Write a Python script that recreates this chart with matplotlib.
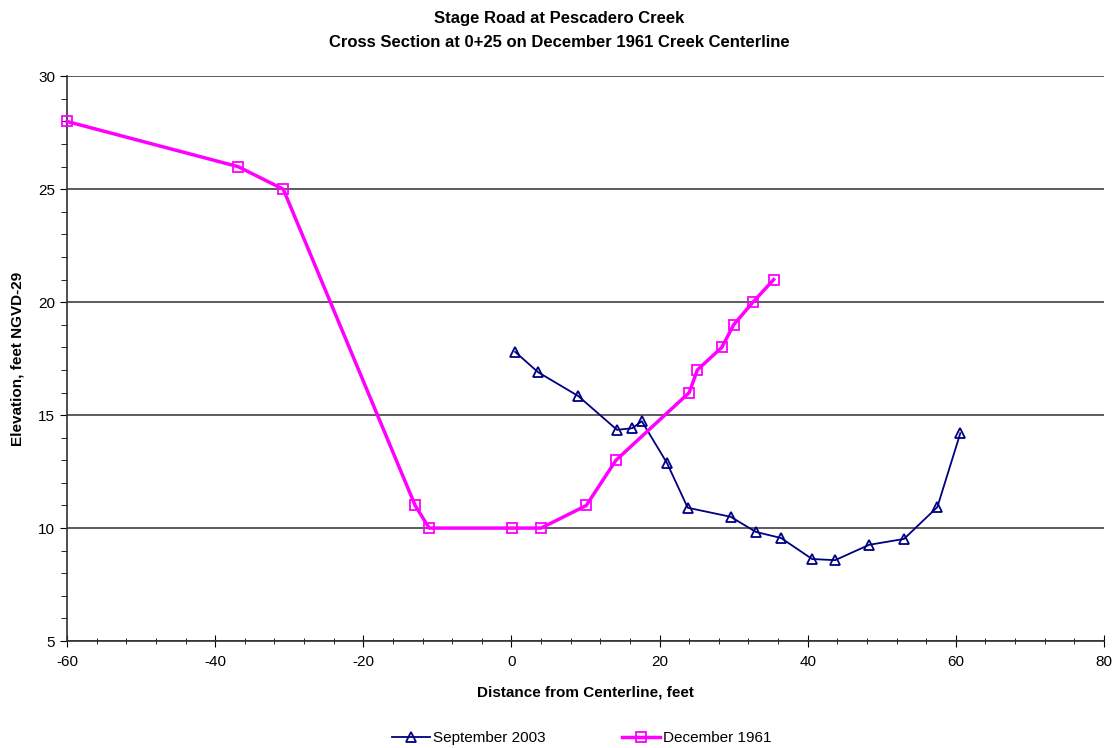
import matplotlib
matplotlib.use("Agg")
import matplotlib.pyplot as plt
from matplotlib.ticker import MultipleLocator

plt.rcParams['font.family'] = ['Liberation Sans', 'DejaVu Sans']
plt.rcParams['axes.unicode_minus'] = False

# September 2003 survey
sep_x = [0.5, 3.6, 9.0, 14.25, 16.3, 17.6, 21.0, 23.8, 29.6, 33.0, 36.4, 40.6, 43.7, 48.3, 53.0, 57.5, 60.6]
sep_y = [17.8, 16.9, 15.85, 14.35, 14.42, 14.73, 12.88, 10.9, 10.5, 9.83, 9.56, 8.63, 8.58, 9.26, 9.52, 10.93, 14.2]

# December 1961 survey
dec_x = [-60, -36.9, -30.8, -13.0, -11.1, 0.1, 4.0, 10.1, 14.1, 24.0, 25.1, 28.4, 30.0, 32.6, 35.4]
dec_y = [28, 26, 25, 11, 10, 10, 10, 11, 13, 16, 17, 18, 19, 20, 21]

fig = plt.figure(figsize=(11.19, 7.48), dpi=100)
ax = fig.add_axes([0.0599, 0.143, 0.9267, 0.755])

ax.plot(sep_x, sep_y, color='#000080', lw=1.3, marker='^', ms=7,
        mfc='none', mec='#000080', mew=1.3, label='September 2003', zorder=3, clip_on=False)
ax.plot(dec_x, dec_y, color='#FF00FF', lw=2.5, marker='s', ms=7,
        mfc='none', mec='#FF00FF', mew=1.3, label='December 1961', zorder=3, clip_on=False)

ax.set_xlim(-60, 80)
ax.set_ylim(5, 30)
ax.xaxis.set_major_locator(MultipleLocator(20))
ax.xaxis.set_minor_locator(MultipleLocator(4))
ax.yaxis.set_major_locator(MultipleLocator(5))
ax.yaxis.set_minor_locator(MultipleLocator(1))
ax.tick_params(axis='x', which='major', direction='inout', length=8, labelsize=11, pad=6)
ax.tick_params(axis='x', which='minor', direction='inout', length=5)
ax.tick_params(axis='y', which='major', direction='out', length=5, labelsize=11)
ax.tick_params(axis='y', which='minor', direction='out', length=4)
ax.grid(axis='y', which='major', color='#303030', lw=1.1)
for s in ['top', 'right']:
    ax.spines[s].set_visible(False)
ax.spines['left'].set_linewidth(1.2)
ax.spines['bottom'].set_linewidth(1.2)
ax.spines['left'].set_color('#303030')
ax.spines['bottom'].set_color('#303030')

ax.set_xlabel('Distance from Centerline, feet', fontsize=11, fontweight='bold', labelpad=12)
ax.set_ylabel('Elevation, feet NGVD-29', fontsize=11, fontweight='bold', labelpad=10)
fig.suptitle('Stage Road at Pescadero Creek\nCross Section at 0+25 on December 1961 Creek Centerline',
             fontsize=12, fontweight='bold', y=0.985, linespacing=1.7)

fig.legend(loc='lower center', bbox_to_anchor=(0.52, -0.015), ncol=2, frameon=False,
           fontsize=11, handlelength=2.5, handletextpad=0.2, columnspacing=5)

fig.savefig('out.png', dpi=100)
